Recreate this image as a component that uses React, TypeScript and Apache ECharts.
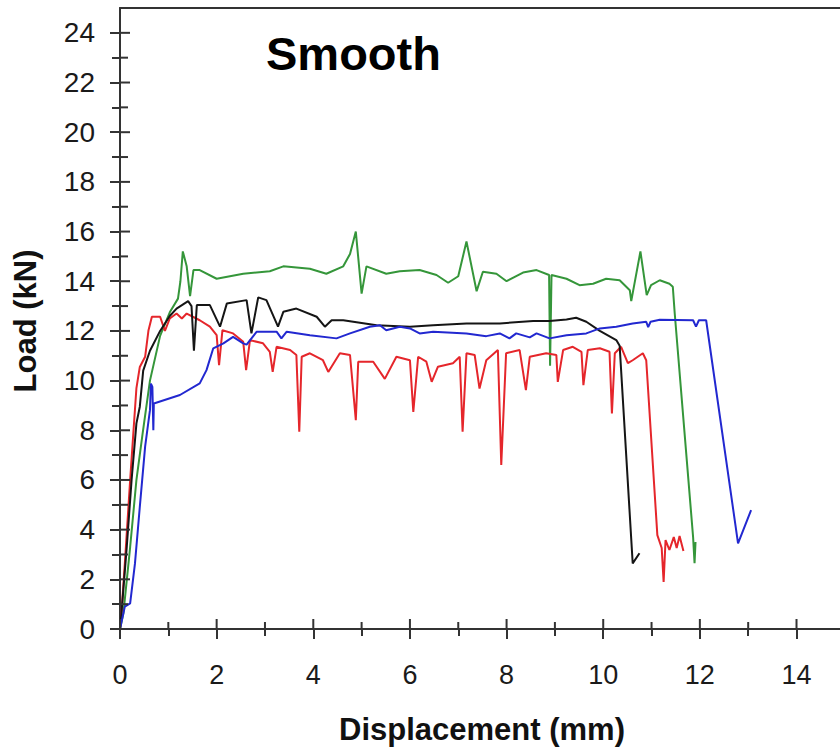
import React, { useEffect, useRef } from "react";
import * as echarts from "echarts";

const FONT = '"Liberation Sans", Arial, Helvetica, sans-serif';

const xMajorTicks = [0, 2, 4, 6, 8, 10, 12, 14];
const xMinorTicks = [1, 3, 5, 7, 9, 11, 13];
const xLabelValues = [0, 2, 4, 6, 8, 10, 12, 14];
const yMajorTicks = [0, 2, 4, 6, 8, 10, 12, 14, 16, 18, 20, 22, 24];
const yMinorTicks = [1, 3, 5, 7, 9, 11, 13, 15, 17, 19, 21, 23];
const yLabelValues = [0, 2, 4, 6, 8, 10, 12, 14, 16, 18, 20, 22, 24];

const chartTitle = "Smooth";
const xTitle = "Displacement (mm)";
const yTitle = "Load (kN)";

const greenCurve: [number, number][] = [
  [0, 0], [0.07, 0.63], [0.21, 3.3], [0.34, 6.0], [0.47, 7.9], [0.62, 10.0], [0.83, 11.8],
  [1.03, 12.75], [1.2, 13.3], [1.25, 14.0], [1.3, 15.2], [1.38, 14.6], [1.45, 13.4], [1.52, 14.45],
  [1.65, 14.45], [2.0, 14.1], [2.55, 14.3], [3.1, 14.4], [3.38, 14.6], [3.93, 14.5], [4.27, 14.3],
  [4.62, 14.6], [4.76, 15.1], [4.88, 16.0], [5.0, 13.5], [5.1, 14.6], [5.51, 14.3], [5.79, 14.4],
  [6.2, 14.45], [6.55, 14.25], [6.79, 13.94], [7.0, 14.2], [7.17, 15.6], [7.38, 13.6], [7.51, 14.38],
  [7.79, 14.3], [8.0, 14.0], [8.34, 14.35], [8.62, 14.45], [8.88, 14.25], [8.9, 10.6], [8.93, 14.25],
  [9.24, 14.1], [9.51, 13.84], [9.79, 13.9], [10.06, 14.1], [10.34, 14.04], [10.55, 13.64],
  [10.58, 13.2], [10.77, 15.2], [10.9, 13.44], [10.99, 13.84], [11.17, 14.04], [11.37, 13.9],
  [11.44, 13.78], [11.48, 12.7], [11.86, 3.7], [11.89, 2.65], [11.91, 3.5],
];

const redCurve: [number, number][] = [
  [0, 0], [0.03, 0.63], [0.1, 2.64], [0.21, 6.0], [0.28, 8.0], [0.34, 9.7], [0.41, 10.55],
  [0.52, 10.96], [0.59, 12.03], [0.66, 12.57], [0.83, 12.57], [0.93, 12.0], [1.03, 12.5],
  [1.17, 12.7], [1.28, 12.5], [1.38, 12.7], [1.65, 12.43], [1.86, 12.17], [2.0, 11.83],
  [2.05, 10.62], [2.12, 12.03], [2.34, 11.9], [2.55, 11.56], [2.61, 10.42], [2.69, 11.63],
  [2.96, 11.5], [3.1, 11.16], [3.16, 10.35], [3.24, 11.36], [3.52, 11.23], [3.65, 11.03],
  [3.71, 7.94], [3.76, 10.96], [3.93, 11.1], [4.2, 10.82], [4.31, 10.35], [4.55, 11.1],
  [4.76, 11.03], [4.88, 8.41], [4.93, 10.76], [5.24, 10.76], [5.48, 10.07], [5.72, 10.96],
  [6.0, 10.82], [6.07, 8.74], [6.17, 10.96], [6.34, 10.76], [6.45, 9.95], [6.58, 10.56],
  [6.89, 10.7], [7.03, 10.96], [7.09, 7.94], [7.17, 11.1], [7.34, 11.03], [7.44, 9.68],
  [7.58, 10.82], [7.82, 11.23], [7.89, 6.6], [7.99, 11.1], [8.27, 11.23], [8.4, 9.62],
  [8.48, 10.96], [8.82, 11.1], [9.03, 11.03], [9.06, 9.95], [9.17, 11.23], [9.37, 11.36],
  [9.55, 11.16], [9.59, 9.82], [9.68, 11.23], [9.93, 11.3], [10.13, 11.16], [10.18, 8.68],
  [10.24, 11.1], [10.37, 11.36], [10.51, 10.7], [10.61, 10.82], [10.82, 11.1], [10.89, 10.82],
  [11.12, 3.78], [11.21, 3.26], [11.25, 1.89], [11.29, 3.58], [11.37, 3.18], [11.46, 3.7],
  [11.52, 3.26], [11.58, 3.74], [11.66, 3.14],
];

const blackCurve: [number, number][] = [
  [0, 0], [0.03, 0.63], [0.14, 3.3], [0.24, 6.0], [0.34, 8.28], [0.41, 8.95], [0.48, 10.4],
  [0.62, 11.2], [0.83, 12.0], [1.03, 12.6], [1.17, 12.9], [1.41, 13.2], [1.48, 13.0], [1.53, 11.2],
  [1.59, 13.04], [1.86, 13.04], [2.07, 12.17], [2.21, 13.1], [2.62, 13.24], [2.72, 11.9],
  [2.86, 13.35], [3.03, 13.24], [3.27, 12.17], [3.38, 12.77], [3.65, 12.9], [4.07, 12.57],
  [4.24, 12.17], [4.38, 12.43], [4.62, 12.43], [5.31, 12.23], [6.0, 12.17], [6.48, 12.23],
  [7.17, 12.3], [7.86, 12.3], [8.55, 12.4], [8.89, 12.4], [9.24, 12.46], [9.44, 12.53],
  [9.65, 12.37], [9.93, 12.0], [10.27, 11.63], [10.34, 11.4], [10.61, 2.64], [10.75, 3.05],
];

const blueCurve: [number, number][] = [
  [0, 0], [0.1, 0.9], [0.21, 1.03], [0.31, 2.64], [0.41, 4.92], [0.52, 7.34], [0.62, 8.81],
  [0.64, 9.88], [0.67, 9.75], [0.69, 8.0], [0.7, 9.08], [1.24, 9.42], [1.65, 9.89], [1.79, 10.42],
  [1.93, 11.3], [2.14, 11.5], [2.34, 11.76], [2.55, 11.5], [2.62, 11.45], [2.83, 11.97],
  [3.24, 11.97], [3.34, 11.7], [3.45, 11.97], [3.93, 11.83], [4.48, 11.7], [4.76, 11.9],
  [5.17, 12.17], [5.38, 12.23], [5.51, 12.03], [5.79, 12.17], [6.0, 12.1], [6.2, 11.9],
  [6.48, 11.97], [7.17, 11.9], [7.58, 11.79], [7.86, 11.9], [8.06, 11.7], [8.2, 11.9],
  [8.48, 11.74], [8.62, 11.9], [8.89, 11.7], [9.24, 11.83], [9.65, 11.9], [9.93, 12.1],
  [10.27, 12.17], [10.61, 12.3], [10.89, 12.37], [10.93, 12.15], [10.98, 12.37], [11.17, 12.45],
  [11.86, 12.43], [11.92, 12.17], [11.98, 12.43], [12.13, 12.43], [12.79, 3.45], [13.06, 4.79],
];

const curves = [
  { name: "green", data: greenCurve, color: "#35963a" },
  { name: "red", data: redCurve, color: "#e5262b" },
  { name: "black", data: blackCurve, color: "#151515" },
  { name: "blue", data: blueCurve, color: "#2228d0" },
];

const AXIS_COLOR = "#333333";
const X_MAX = 14.9;
const Y_MAX = 25;

const GRID_LEFT = 120;
const GRID_TOP = 8;
const GRID_W = 720;
const GRID_H = 621;
const MAJOR_LEN = 10;
const MINOR_LEN = 7;

export default function App() {
  const ref = useRef<HTMLDivElement>(null);

  useEffect(() => {
    if (!ref.current) return;
    const chart = echarts.init(ref.current, undefined, { renderer: "svg" });
    const lineStyle = { color: AXIS_COLOR, width: 2 };
    const gridBox = { left: GRID_LEFT, top: GRID_TOP, width: GRID_W, height: GRID_H, containLabel: false };

    const xBase = { type: "value", min: 0, max: X_MAX, splitLine: { show: false } };
    const yBase = { type: "value", min: 0, max: Y_MAX, splitLine: { show: false } };
    const noLine = { show: false, onZero: false };
    const noLabel = { show: false };

    const xAxes: any[] = [
      {
        ...xBase,
        gridIndex: 0,
        position: "bottom",
        axisLine: { show: true, onZero: false, lineStyle },
        axisTick: { show: true, customValues: xMajorTicks, length: MAJOR_LEN, lineStyle },
        axisLabel: {
          show: true,
          customValues: xLabelValues,
          fontSize: 27,
          margin: 32,
          color: "#1a1a1a",
          fontFamily: FONT,
        },
      },
      {
        ...xBase,
        gridIndex: 1,
        position: "bottom",
        axisLine: noLine,
        axisTick: { show: true, customValues: xMinorTicks, length: MINOR_LEN, lineStyle },
        axisLabel: noLabel,
      },
      {
        ...xBase,
        gridIndex: 1,
        position: "top",
        axisLine: { show: true, onZero: false, lineStyle },
        axisTick: { show: false },
        axisLabel: noLabel,
      },
    ];

    const yAxes: any[] = [
      {
        ...yBase,
        gridIndex: 0,
        position: "left",
        axisLine: { show: true, onZero: false, lineStyle },
        axisTick: { show: true, customValues: yMajorTicks, length: MAJOR_LEN, lineStyle },
        axisLabel: {
          show: true,
          customValues: yLabelValues,
          fontSize: 28,
          margin: 25,
          color: "#1a1a1a",
          fontFamily: FONT,
        },
      },
      {
        ...yBase,
        gridIndex: 1,
        position: "left",
        axisLine: noLine,
        axisTick: { show: true, customValues: yMinorTicks, length: MINOR_LEN + 1, lineStyle },
        axisLabel: noLabel,
      },
    ];

    const curveSeries = curves.map((c) => ({
      name: c.name,
      type: "line",
      xAxisIndex: 0,
      yAxisIndex: 0,
      data: c.data,
      showSymbol: false,
      symbol: "none",
      lineStyle: { color: c.color, width: 2 },
      itemStyle: { color: c.color },
      z: 3,
    }));

    // inward halves of the crossing axis tick marks (axis decoration, not data)
    const xPix = (v: number) => GRID_LEFT + (v / X_MAX) * GRID_W;
    const yPix = (v: number) => GRID_TOP + GRID_H - (v / Y_MAX) * GRID_H;
    const baseY = GRID_TOP + GRID_H;
    const tickGraphics: any[] = [];
    const pushLine = (x1: number, y1: number, x2: number, y2: number) =>
      tickGraphics.push({
        type: "line",
        z: 100,
        silent: true,
        shape: { x1, y1, x2, y2 },
        style: { stroke: AXIS_COLOR, lineWidth: 2 },
      });
    xMajorTicks.forEach((v) => pushLine(xPix(v), baseY, xPix(v), baseY - MAJOR_LEN));
    xMinorTicks.forEach((v) => pushLine(xPix(v), baseY, xPix(v), baseY - MINOR_LEN));
    yMajorTicks.forEach((v) => pushLine(GRID_LEFT, yPix(v), GRID_LEFT + MAJOR_LEN, yPix(v)));
    yMinorTicks.forEach((v) => pushLine(GRID_LEFT, yPix(v), GRID_LEFT + MINOR_LEN + 1, yPix(v)));

    const textGraphics: any[] = [
      {
        type: "text",
        x: 266,
        y: 53,
        style: {
          text: chartTitle,
          font: `bold 47px ${FONT}`,
          fill: "#000000",
          align: "left",
          verticalAlign: "middle",
          textAlign: "left",
          textVerticalAlign: "middle",
        },
      },
      {
        type: "text",
        x: 482,
        y: 729,
        style: {
          text: xTitle,
          font: `bold 31px ${FONT}`,
          fill: "#111111",
          align: "center",
          verticalAlign: "middle",
          textAlign: "center",
          textVerticalAlign: "middle",
        },
      },
      {
        type: "text",
        x: 25,
        y: 321,
        rotation: Math.PI / 2,
        style: {
          text: yTitle,
          font: `bold 31px ${FONT}`,
          fill: "#111111",
          align: "center",
          verticalAlign: "middle",
          textAlign: "center",
          textVerticalAlign: "middle",
        },
      },
    ];

    chart.setOption({
      animation: false,
      backgroundColor: "#ffffff",
      grid: [{ ...gridBox }, { ...gridBox }],
      xAxis: xAxes,
      yAxis: yAxes,
      series: curveSeries,
      graphic: [...textGraphics, ...tickGraphics],
    });

    return () => chart.dispose();
  }, []);

  return (
    <div
      ref={ref}
      style={{ position: "absolute", left: 0, top: 0, width: 840, height: 748, background: "#ffffff" }}
    />
  );
}
